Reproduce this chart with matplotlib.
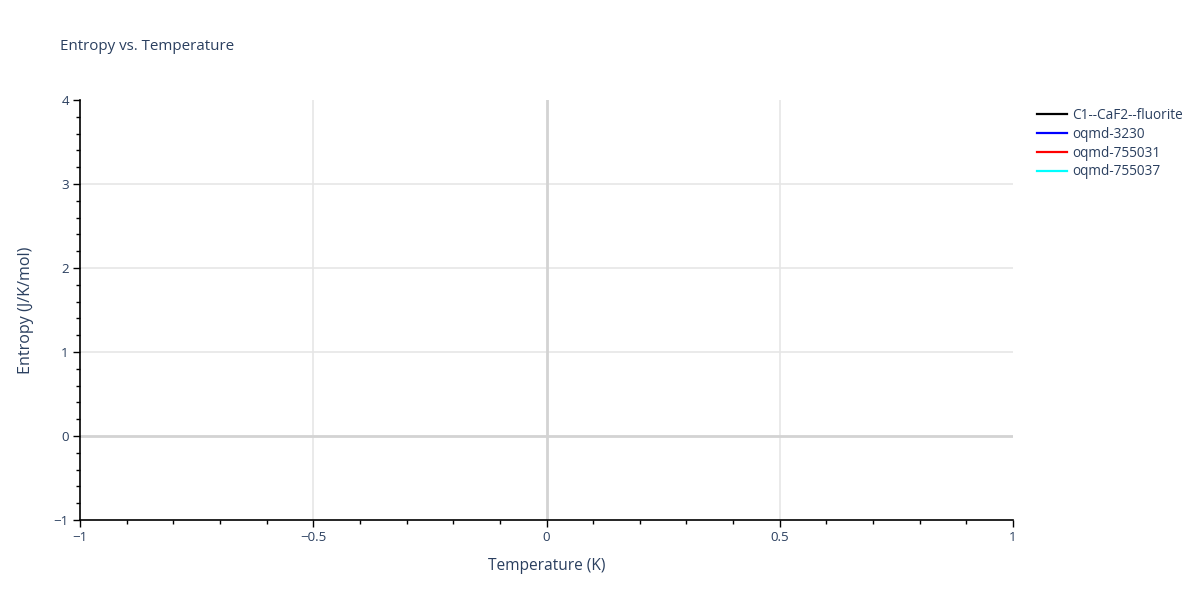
import matplotlib
matplotlib.use("Agg")
import matplotlib.pyplot as plt
from matplotlib.ticker import MultipleLocator

# Data: all traces are empty in the reference
series_names = ["C1--CaF2--fluorite", "oqmd-3230", "oqmd-755031", "oqmd-755037"]
series_colors = ["black", "blue", "red", "cyan"]
temperature = {n: [] for n in series_names}
entropy = {n: [] for n in series_names}

x_ticks = [-1, -0.5, 0, 0.5, 1]
x_tick_labels = ["\u22121", "\u22120.5", "0", "0.5", "1"]
y_ticks = [-1, 0, 1, 2, 3, 4]
y_tick_labels = ["\u22121", "0", "1", "2", "3", "4"]

plt.rcParams['font.family'] = ['Open Sans', 'DejaVu Sans']
txt = "#2a3f5f"

fig = plt.figure(figsize=(12, 6), dpi=100)
ax = fig.add_axes([80/1200, 1-520/600, (1013-80)/1200, 420/600])

for n, c in zip(series_names, series_colors):
    ax.plot(temperature[n], entropy[n], color=c, lw=1.6, label=n)

ax.set_xlim(-1, 1)
ax.set_ylim(-1, 4)
ax.set_xticks(x_ticks)
ax.set_xticklabels(x_tick_labels)
ax.set_yticks(y_ticks)
ax.set_yticklabels(y_tick_labels)
ax.xaxis.set_minor_locator(MultipleLocator(0.1))
ax.yaxis.set_minor_locator(MultipleLocator(0.2))

for s in ["top", "right"]:
    ax.spines[s].set_visible(False)
for s in ["left", "bottom"]:
    ax.spines[s].set_color("black")
    ax.spines[s].set_linewidth(1.2)

ax.tick_params(which="major", direction="out", length=5, width=1, color="black",
               labelsize=9.6, labelcolor=txt, pad=3)
ax.tick_params(which="minor", direction="out", length=3, width=1, color="black")

# grid lines (exclude zero lines, drawn separately)
for xv in x_ticks:
    if xv not in (-1, 0, 1):
        ax.axvline(xv, color="#e6e6e6", lw=1.2, zorder=0)
for yv in y_ticks:
    if yv not in (-1, 0, 4):
        ax.axhline(yv, color="#e6e6e6", lw=1.2, zorder=0)
ax.axvline(0, color="#d3d3d3", lw=2, zorder=0.5)
ax.axhline(0, color="#d3d3d3", lw=2, zorder=0.5)

ax.set_xlabel("Temperature (K)", fontsize=11.2, color=txt, labelpad=10)
ax.set_ylabel("Entropy (J/K/mol)", fontsize=11.6, color=txt, labelpad=14)
fig.text(60/1200, 1-47/600, "Entropy vs. Temperature", fontsize=10.9, color=txt,
         va="center", ha="left")

leg = ax.legend(loc="upper left", bbox_to_anchor=(1037/1200, 1-108/600),
                bbox_transform=fig.transFigure, frameon=False, fontsize=9.8,
                handlelength=2.2, handletextpad=0.4, labelspacing=0.28,
                borderaxespad=0, borderpad=0)
for t in leg.get_texts():
    t.set_color(txt)

fig.savefig("out.png", dpi=100, facecolor="white")
